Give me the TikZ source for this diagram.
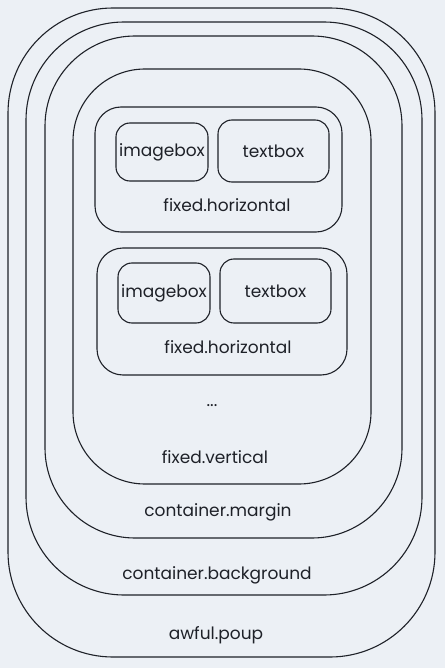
\documentclass[tikz,border=0pt]{standalone}
\usepackage{fontspec}
\setmainfont{Poppins}
\usepackage{tikz}
\definecolor{paper}{RGB}{236,240,245}
\definecolor{ink}{RGB}{30,33,40}

\begin{document}
\begin{tikzpicture}[x=1pt, y=-1pt,
    box/.style={draw=ink, line width=1.1pt, rectangle, inner sep=0pt},
    lbl/.style={text=ink, font=\fontsize{17}{20}\selectfont}]
    % Paper
    \fill[paper] (0,0) rectangle (445,668);
    \useasboundingbox (0,0) rectangle (445,668);

    % Outer boxes
    \node[box, rounded corners=105pt, minimum width=427pt, minimum height=649pt] (poup) at (221.5,332.5) {};
    \node[box, rounded corners=98pt, minimum width=396pt, minimum height=573pt] (background) at (224,308.5) {};
    \node[box, rounded corners=90pt, minimum width=357pt, minimum height=502pt] (margin) at (223.5,287) {};
    \node[box, rounded corners=72pt, minimum width=298pt, minimum height=415pt] (vertical) at (222,276.5) {};

    % First row
    \node[box, rounded corners=26pt, minimum width=247pt, minimum height=125pt] (horizA) at (218.5,169.5) {};
    \node[box, rounded corners=14pt, minimum width=92pt, minimum height=58pt, lbl] (imageA) at (162,152) {imagebox};
    \node[box, rounded corners=14pt, minimum width=111pt, minimum height=62pt, lbl] (textA) at (273.5,151) {textbox};
    \node[lbl] (labelA) at (227,205) {fixed.horizontal};

    % Second row
    \node[box, rounded corners=26pt, minimum width=250pt, minimum height=127pt] (horizB) at (222,311.5) {};
    \node[box, rounded corners=14pt, minimum width=92pt, minimum height=60pt, lbl] (imageB) at (164,293) {imagebox};
    \node[box, rounded corners=14pt, minimum width=111pt, minimum height=64pt, lbl] (textB) at (275.5,291) {textbox};
    \node[lbl] (labelB) at (228,347) {fixed.horizontal};

    % Labels
    \node[lbl] (dots) at (212,406) {...};
    \node[lbl] (labelV) at (215,457) {fixed.vertical};
    \node[lbl] (labelM) at (218,512) {container.margin};
    \node[lbl] (labelBg) at (217,575) {container.background};
    \node[lbl] (labelP) at (216,635) {awful.poup};
\end{tikzpicture}
\end{document}
